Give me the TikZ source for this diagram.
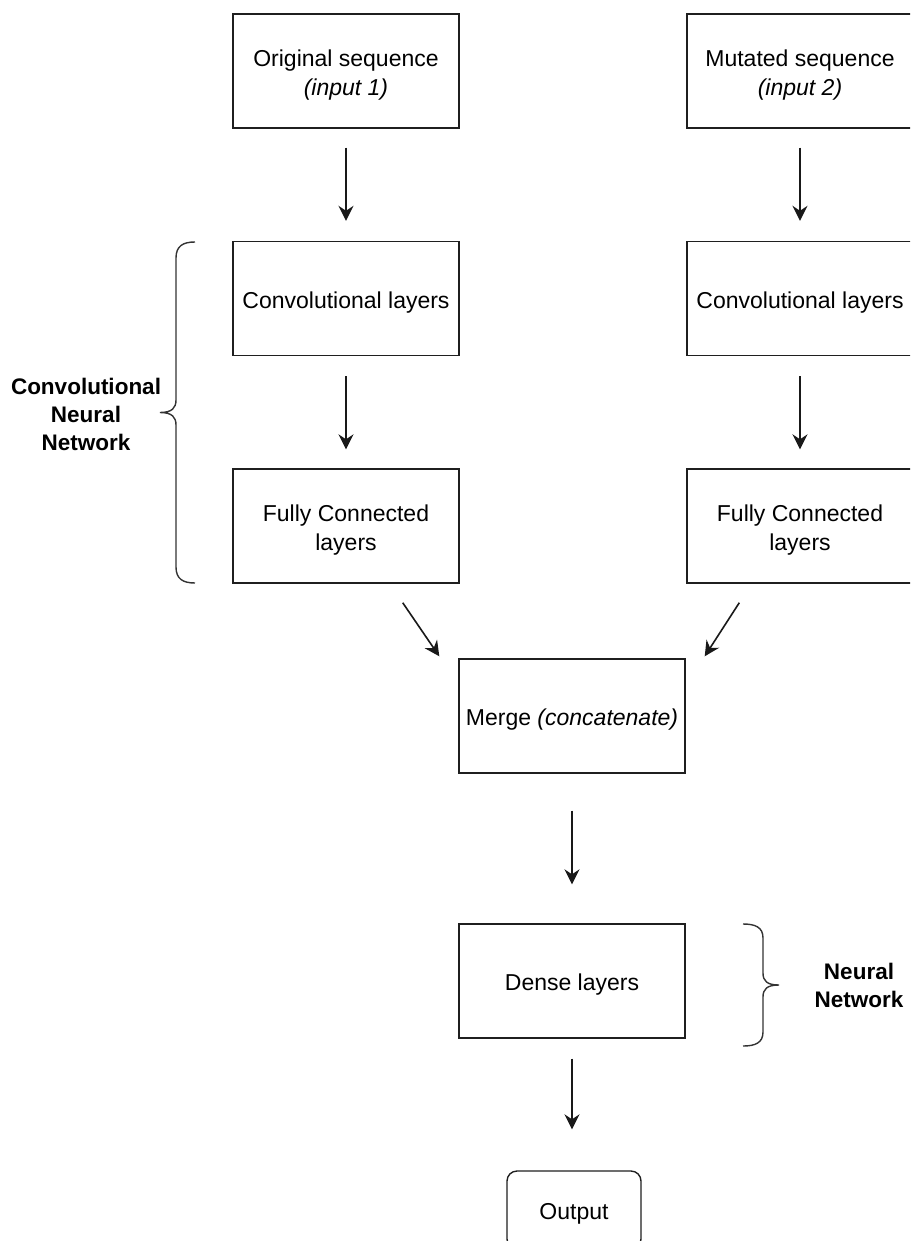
\documentclass[tikz,border=0pt]{standalone}
\usepackage{fontspec}
\setmainfont{Liberation Sans}
\usetikzlibrary{arrows.meta,calc}
% lowers a line of box text slightly below the geometric centre, keeping its size
\newcommand{\boxline}[1]{\raisebox{-4pt}[\height][\depth]{#1}}
\begin{document}
\begin{tikzpicture}[x=1pt,y=-1pt,
  stage/.style={draw=black!88, line width=1.4pt, minimum width=226pt, minimum height=114pt,
    inner sep=0pt, align=center, font=\fontsize{23}{29.5}\selectfont},
  endbox/.style={draw=black!88, line width=1.4pt, rounded corners=10pt, minimum width=134pt,
    minimum height=78pt, inner sep=0pt, align=center, font=\fontsize{23}{29.5}\selectfont},
  grouplabel/.style={align=center, font=\fontsize{22.5}{28}\selectfont\bfseries},
  flow/.style={draw=black!90, line width=1.6pt, -{Stealth[length=15pt,width=15pt,inset=5pt]}},
  bracket/.style={draw=black!80, line width=1.4pt}]
\useasboundingbox (0,0) rectangle (910,1241);
\clip (0,0) rectangle (910,1241);

% two input branches
\node[stage] (in1) at (346,71) {\boxline{Original sequence}\\\boxline{\textit{(input 1)}}};
\node[stage] (in2) at (800,71) {\boxline{Mutated sequence}\\\boxline{\textit{(input 2)}}};
\node[stage] (cv1) at (346,298.5) {\boxline{Convolutional layers}};
\node[stage] (cv2) at (800,298.5) {\boxline{Convolutional layers}};
\node[stage] (fc1) at (346,526) {\boxline{Fully Connected}\\\boxline{layers}};
\node[stage] (fc2) at (800,526) {\boxline{Fully Connected}\\\boxline{layers}};

% merged trunk
\node[stage] (merge) at (572,716) {\boxline{Merge \textit{(concatenate)}}};
\node[stage] (dense) at (572,981) {\boxline{Dense layers}};
\node[endbox] (out) at (574,1210) {\boxline{Output}};

% group labels
\node[grouplabel] (cnnlab) at (86,414) {Convolutional\\Neural\\Network};
\node[grouplabel] (nnlab) at (859,985) {Neural\\Network};

% arrows
\draw[flow, shorten <=19pt, shorten >=20pt] (in1) -- (cv1);
\draw[flow, shorten <=19pt, shorten >=20pt] (in2) -- (cv2);
\draw[flow, shorten <=20pt, shorten >=19pt] (cv1) -- (fc1);
\draw[flow, shorten <=20pt, shorten >=19pt] (cv2) -- (fc2);
\coordinate (d1a) at ($(fc1.south east)+(-57,19)$);
\coordinate (d1b) at ($(merge.north west)+(-19,-2)$);
\coordinate (d2a) at ($(fc2.south west)+(53,19)$);
\coordinate (d2b) at ($(merge.north east)+(19,-2)$);
\draw[flow] (d1a) -- (d1b);
\draw[flow] (d2a) -- (d2b);
\draw[flow, shorten <=37pt, shorten >=39pt] (merge) -- (dense);
\draw[flow, shorten <=20pt, shorten >=41pt] (dense.south) -- (dense.south |- out.north);

% curly brackets
\draw[bracket] (195,242) .. controls (183,242) and (176,246) .. (176,258) -- (176,400)
  .. controls (176,408) and (172,412.5) .. (160,412.5)
  .. controls (172,412.5) and (176,417) .. (176,425) -- (176,567)
  .. controls (176,579) and (183,583) .. (195,583);
\draw[bracket] (743,924) .. controls (755,924) and (763,927) .. (763,938) -- (763,973)
  .. controls (763,981) and (767,985) .. (779,985)
  .. controls (767,985) and (763,989) .. (763,997) -- (763,1032)
  .. controls (763,1043) and (755,1046) .. (743,1046);
\end{tikzpicture}
\end{document}
